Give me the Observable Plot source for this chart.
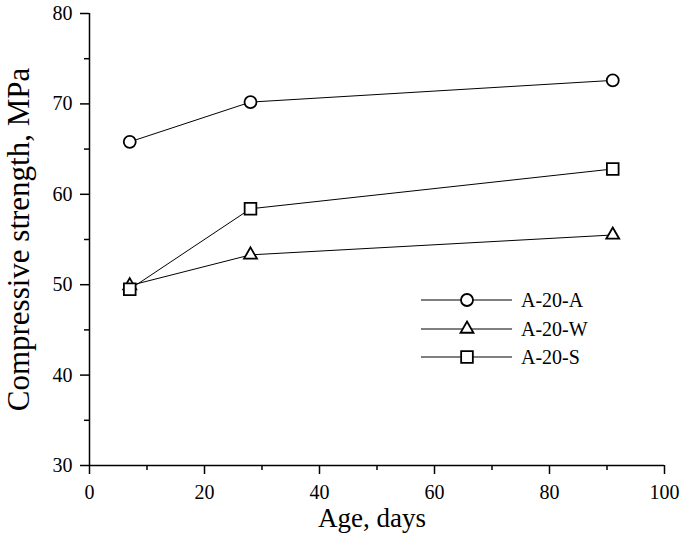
<!DOCTYPE html>
<html>
<head>
<meta charset="utf-8">
<script src="https://cdn.jsdelivr.net/npm/d3@7"></script>
<script src="https://cdn.jsdelivr.net/npm/@observablehq/plot@0.6"></script>
<style>
  html, body { margin: 0; padding: 0; background: #fff; }
  #chart svg { display: block; }
</style>
</head>
<body>
<div id="chart"></div>
<script>
// Data
const ages = [7, 28, 91];
const seriesNames = ["A-20-A", "A-20-W", "A-20-S"];
const seriesSymbols = ["circle", "triangle", "square"];
const strengthA = [65.8, 70.2, 72.6];
const strengthW = [49.9, 53.3, 55.5];
const strengthS = [49.5, 58.4, 62.8];
const xTicks = [0, 20, 40, 60, 80, 100];
const xMinorTicks = [10, 30, 50, 70, 90];
const yTicks = [30, 40, 50, 60, 70, 80];
const yMinorTicks = [35, 45, 55, 65, 75];
const xLabel = "Age, days";
const yLabel = "Compressive strength, MPa";

const seriesValues = [strengthA, strengthW, strengthS];
const data = seriesNames.flatMap((name, i) =>
  ages.map((age, j) => ({series: name, symbol: seriesSymbols[i], age, value: seriesValues[i][j]}))
);
const symbolR = {circle: 6, triangle: 4.8, square: 6.6};
const FONT = "Liberation Serif, Times New Roman, serif";

function legendMark(index, scales, values, dimensions) {
  const g = d3.create("svg:g").attr("font-family", FONT);
  const x0 = 421, x1 = 512, xm = 467, xt = 521;
  const rows = [300, 329, 357];
  seriesNames.forEach((name, i) => {
    const y = rows[i];
    g.append("line").attr("x1", x0).attr("x2", x1).attr("y1", y).attr("y2", y)
      .attr("stroke", "black").attr("stroke-width", 1);
    const sym = seriesSymbols[i];
    const type = sym === "circle" ? d3.symbolCircle : sym === "triangle" ? d3.symbolTriangle : d3.symbolSquare;
    const r = symbolR[sym];
    g.append("path").attr("transform", `translate(${xm},${y})`)
      .attr("d", d3.symbol(type, Math.PI * r * r)())
      .attr("fill", "white").attr("stroke", "black").attr("stroke-width", 1.8);
    g.append("text").attr("x", xt).attr("y", y).attr("dy", "0.35em")
      .attr("text-anchor", "start")
      .attr("font-size", 20).attr("fill", "black").text(name);
  });
  return g.node();
}

const chart = Plot.plot({
  width: 682,
  height: 540,
  marginLeft: 89,
  marginRight: 18,
  marginTop: 13,
  marginBottom: 75,
  style: {fontFamily: FONT, background: "white", color: "black"},
  x: {domain: [0, 100]},
  y: {domain: [30, 80]},
  marks: [
    Plot.axisX({ticks: xTicks, tickSize: 9, tickPadding: 10, fontSize: 20, label: null, strokeWidth: 1.5}),
    Plot.axisX({ticks: xMinorTicks, tickSize: 5, tickFormat: () => "", label: null, strokeWidth: 1.5}),
    Plot.axisY({ticks: yTicks, tickSize: 9, tickPadding: 8, fontSize: 20, label: null, strokeWidth: 1.5}),
    Plot.axisY({ticks: yMinorTicks, tickSize: 5, tickFormat: () => "", label: null, strokeWidth: 1.5}),
    Plot.ruleX([0], {stroke: "black", strokeWidth: 1.5}),
    Plot.ruleY([30], {stroke: "black", strokeWidth: 1.5}),
    Plot.line(data, {x: "age", y: "value", z: "series", stroke: "black", strokeWidth: 1}),
    ...seriesSymbols.map(sym =>
      Plot.dot(data.filter(d => d.symbol === sym), {
        x: "age", y: "value", symbol: sym, r: symbolR[sym],
        fill: "white", stroke: "black", strokeWidth: 1.8
      })
    ),
    Plot.text([xLabel], {frameAnchor: "bottom", dy: 61, fontSize: 27, fill: "black", dx: -5, textAnchor: "middle"}),
    Plot.text([yLabel], {frameAnchor: "left", rotate: -90, dx: -70, fontSize: 31, fill: "black", textAnchor: "middle"}),
    legendMark
  ]
});
document.getElementById("chart").appendChild(chart);
</script>
</body>
</html>
